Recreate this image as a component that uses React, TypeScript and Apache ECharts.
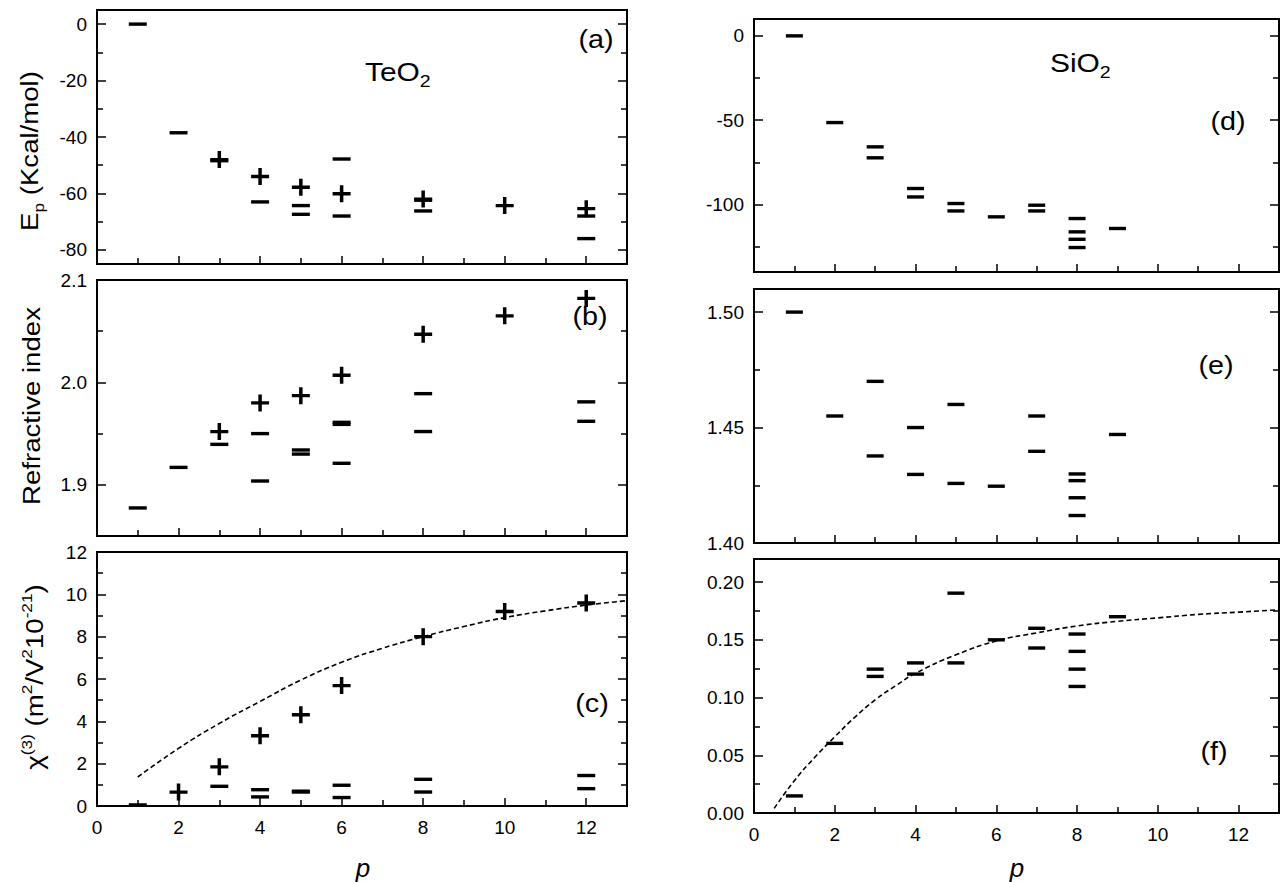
import { useEffect, useRef } from "react";
import * as echarts from "echarts";

// ---------- data ----------
const X_MAJOR = [0, 2, 4, 6, 8, 10, 12];
const X_MINOR = [1, 3, 5, 7, 9, 11];

// (a) TeO2 Ep (Kcal/mol)
const teEpPlus = [[3, -48], [4, -54], [5, -57.8], [6, -60.1], [8, -62], [10, -64.3], [12, -65.4]];
const teEpMinus = [[1, 0], [2, -38.5], [3, -48.4], [4, -63], [5, -64.3], [5, -67.4], [6, -47.8], [6, -68], [8, -62.4], [8, -66.2], [12, -68], [12, -76]];
const aMajor = [0, -20, -40, -60, -80];
const aMinor = [-10, -30, -50, -70];

// (b) TeO2 refractive index
const teNPlus = [[3, 1.952], [4, 1.98], [5, 1.987], [6, 2.007], [8, 2.047], [10, 2.065], [12, 2.082]];
const teNMinus = [[1, 1.8774], [2, 1.917], [3, 1.9395], [4, 1.95], [4, 1.9037], [5, 1.934], [5, 1.93], [6, 1.961], [6, 1.959], [6, 1.921], [8, 1.989], [8, 1.952], [12, 1.981], [12, 1.962]];
const bMajor = [1.9, 2.0, 2.1];
const bMinor = [1.95, 2.05];

// (c) TeO2 chi(3)
const teChiPlus = [[2, 0.66], [3, 1.85], [4, 3.32], [5, 4.31], [6, 5.69], [8, 8.0], [10, 9.19], [12, 9.59]];
const teChiMinus = [[1, 0.05], [3, 0.93], [4, 0.77], [4, 0.43], [5, 0.7], [5, 0.66], [6, 0.98], [6, 0.4], [8, 1.26], [8, 0.66], [12, 1.44], [12, 0.82]];
const teChiFit = [[1, 1.37], [2, 2.72], [3, 3.9], [4, 4.94], [5, 5.95], [6, 6.79], [7, 7.45], [8, 8.0], [9, 8.48], [10, 8.9], [11, 9.22], [12, 9.49], [13, 9.7]];
const cMajor = [0, 2, 4, 6, 8, 10, 12];
const cMinor = [1, 3, 5, 7, 9, 11];

// (d) SiO2 Ep
const siEpMinus = [[1, 0], [2, -51.4], [3, -65.8], [3, -72.3], [4, -90.5], [4, -95.5], [5, -99.4], [5, -103.8], [6, -107.3], [7, -100.4], [7, -103.8], [8, -108.3], [8, -116.2], [8, -120.6], [8, -125.5], [9, -114.2]];
const dMajor = [0, -50, -100];
const dMinor = [-25, -75, -125];

// (e) SiO2 refractive index
const siNMinus = [[1, 1.5], [2, 1.455], [3, 1.47], [3, 1.4377], [4, 1.45], [4, 1.4297], [5, 1.46], [5, 1.4258], [6, 1.4246], [7, 1.455], [7, 1.4397], [8, 1.4299], [8, 1.427], [8, 1.4196], [8, 1.4119], [9, 1.447]];
const eMajor = [1.4, 1.45, 1.5];
const eMinor = [1.425, 1.475];

// (f) SiO2 chi(3)
const siChiMinus = [[1, 0.0148], [2, 0.0603], [3, 0.1246], [3, 0.1183], [4, 0.13], [4, 0.1203], [5, 0.1904], [5, 0.13], [6, 0.15], [7, 0.16], [7, 0.1429], [8, 0.155], [8, 0.14], [8, 0.1246], [8, 0.1096], [9, 0.17]];
const siChiFit = [[0.5, 0.004], [1, 0.028], [1.5, 0.048], [2, 0.066], [2.5, 0.083], [3, 0.098], [3.5, 0.11], [4, 0.121], [5, 0.137], [6, 0.149], [7, 0.156], [8, 0.162], [9, 0.166], [10, 0.169], [11, 0.172], [12, 0.174], [13, 0.176]];
const fMajor = [0, 0.05, 0.1, 0.15, 0.2];
const fMinor = [0.025, 0.075, 0.125, 0.175];

// ---------- styling ----------
const FONT = "'Liberation Sans', Arial, sans-serif";
const PLUS = "path://M0,7.25H7.25V0H10.75V7.25H18V10.75H10.75V18H7.25V10.75H0Z";
const TXT_SCALE = 1.15;

const grids = [
  { left: 97, top: 10, width: 530, height: 254 },
  { left: 97, top: 280, width: 530, height: 256 },
  { left: 97, top: 552, width: 530, height: 254 },
  { left: 754, top: 19, width: 525, height: 253 },
  { left: 754, top: 289, width: 525, height: 254 },
  { left: 754, top: 559, width: 525, height: 254 },
].map((g) => ({ ...g, show: true, borderColor: "#000", borderWidth: 2, backgroundColor: "transparent" }));

const tickStyle = { color: "#000", width: 1.5 };
const labelStyle = { color: "#000", fontSize: 19, fontFamily: FONT };

function xAxes(grid: number, showLabels: boolean) {
  const base = {
    type: "value",
    gridIndex: grid,
    position: "bottom",
    min: 0,
    max: 13,
    axisLine: { show: false, onZero: false },
    splitLine: { show: false },
  };
  return [
    {
      ...base,
      axisTick: { show: true, inside: true, length: 8, lineStyle: tickStyle, customValues: X_MAJOR },
      axisLabel: { show: showLabels, customValues: X_MAJOR, margin: 12, ...labelStyle },
    },
    {
      ...base,
      axisTick: { show: true, inside: true, length: 6, lineStyle: tickStyle, customValues: X_MINOR },
      axisLabel: { show: false },
    },
  ];
}

function yAxes(grid: number, min: number, max: number, major: number[], minor: number[], dec: number) {
  const base = {
    type: "value",
    gridIndex: grid,
    min,
    max,
    axisLine: { show: false, onZero: false },
    splitLine: { show: false },
  };
  const out: any[] = [];
  for (const pos of ["left", "right"]) {
    out.push({
      ...base,
      position: pos,
      axisTick: { show: true, inside: true, length: 9, lineStyle: tickStyle, customValues: major },
      axisLabel: {
        show: pos === "left",
        customValues: major,
        margin: 10,
        formatter: (v: number) => v.toFixed(dec),
        ...labelStyle,
      },
    });
    out.push({
      ...base,
      position: pos,
      axisTick: { show: true, inside: true, length: 6, lineStyle: tickStyle, customValues: minor },
      axisLabel: { show: false },
    });
  }
  return out;
}

function plus(grid: number, data: number[][]) {
  return {
    type: "scatter",
    xAxisIndex: grid * 2,
    yAxisIndex: grid * 4,
    data,
    symbol: PLUS,
    symbolSize: [18, 17],
    itemStyle: { color: "#000", opacity: 1 },
    z: 5,
  };
}
function minus(grid: number, data: number[][], w: number) {
  return {
    type: "scatter",
    xAxisIndex: grid * 2,
    yAxisIndex: grid * 4,
    data,
    symbol: "rect",
    symbolSize: [w, 3.4],
    itemStyle: { color: "#000", opacity: 1 },
    z: 5,
  };
}
function fit(grid: number, data: number[][]) {
  return {
    type: "line",
    xAxisIndex: grid * 2,
    yAxisIndex: grid * 4,
    data,
    smooth: true,
    showSymbol: false,
    symbol: "none",
    lineStyle: { color: "#000", width: 1.6, type: [5, 3] },
    z: 3,
  };
}

function label(text: string, x: number, y: number, size = 25) {
  return {
    type: "text",
    x,
    y,
    scaleX: TXT_SCALE,
    style: { text, fill: "#000", font: `${size}px ${FONT}`, align: "center", verticalAlign: "middle" },
  };
}

function richText(text: string, x: number, y: number, rich: any, rotate: boolean, align = "center") {
  return {
    type: "text",
    x,
    y,
    rotation: rotate ? Math.PI / 2 : 0,
    scaleX: TXT_SCALE,
    style: { text, rich, fill: "#000", align, verticalAlign: "middle", fontFamily: FONT },
  };
}

const mainTok = (size: number) => ({ fontSize: size, lineHeight: size + 8, fontFamily: FONT, color: "#000", verticalAlign: "middle" });
const subTok = (size: number) => ({ fontSize: size, lineHeight: size, fontFamily: FONT, color: "#000", verticalAlign: "bottom" });
const supTok = (size: number) => ({ fontSize: size, lineHeight: size, fontFamily: FONT, color: "#000", verticalAlign: "top" });

export default function App() {
  const ref = useRef<HTMLDivElement>(null);
  useEffect(() => {
    document.body.style.margin = "0";
    if (!ref.current) return;
    const chart = echarts.init(ref.current, undefined, { renderer: "svg" });
    const option: any = {
      animation: false,
      backgroundColor: "#fff",
      grid: grids,
      xAxis: [
        ...xAxes(0, false),
        ...xAxes(1, false),
        ...xAxes(2, true),
        ...xAxes(3, false),
        ...xAxes(4, false),
        ...xAxes(5, true),
      ],
      yAxis: [
        ...yAxes(0, -85, 5, aMajor, aMinor, 0),
        ...yAxes(1, 1.85, 2.1, bMajor, bMinor, 1),
        ...yAxes(2, 0, 12, cMajor, cMinor, 0),
        ...yAxes(3, -140, 10, dMajor, dMinor, 0),
        ...yAxes(4, 1.4, 1.51, eMajor, eMinor, 2),
        ...yAxes(5, 0, 0.22, fMajor, fMinor, 2),
      ],
      series: [
        plus(0, teEpPlus),
        minus(0, teEpMinus, 18),
        plus(1, teNPlus),
        minus(1, teNMinus, 18),
        fit(2, teChiFit),
        plus(2, teChiPlus),
        minus(2, teChiMinus, 18),
        minus(3, siEpMinus, 17),
        minus(4, siNMinus, 17),
        fit(5, siChiFit),
        minus(5, siChiMinus, 17),
      ],
      graphic: [
        richText("{m|E}{s|p}{m| (Kcal/mol)}", 30, 151, { m: mainTok(24), s: subTok(15) }, true),
        richText("{m|Refractive index}", 32, 406, { m: mainTok(24) }, true),
        richText(
          "{m|χ}{u|(3)}{m| (m}{u|2}{m|/V}{u|2}{m|10}{u|-21}{m|)}",
          35,
          677,
          { m: mainTok(24), u: supTok(15) },
          true
        ),
        richText("{m|TeO}{s|2}", 365, 72, { m: mainTok(26), s: subTok(17) }, false, "left"),
        richText("{m|SiO}{s|2}", 1050, 63, { m: mainTok(26), s: subTok(17) }, false, "left"),
        label("(a)", 596, 40),
        label("(b)", 590, 317),
        label("(c)", 592, 704),
        label("(d)", 1228, 122),
        label("(e)", 1216, 366),
        label("(f)", 1214, 752),
        {
          type: "text",
          x: 363,
          y: 868,
          style: { text: "p", fill: "#000", font: `italic 26px ${FONT}`, align: "center", verticalAlign: "middle" },
        },
        {
          type: "text",
          x: 1017,
          y: 868,
          style: { text: "p", fill: "#000", font: `italic 26px ${FONT}`, align: "center", verticalAlign: "middle" },
        },
      ],
    };
    chart.setOption(option);
    return () => chart.dispose();
  }, []);
  return <div ref={ref} style={{ width: 1288, height: 882 }} />;
}
